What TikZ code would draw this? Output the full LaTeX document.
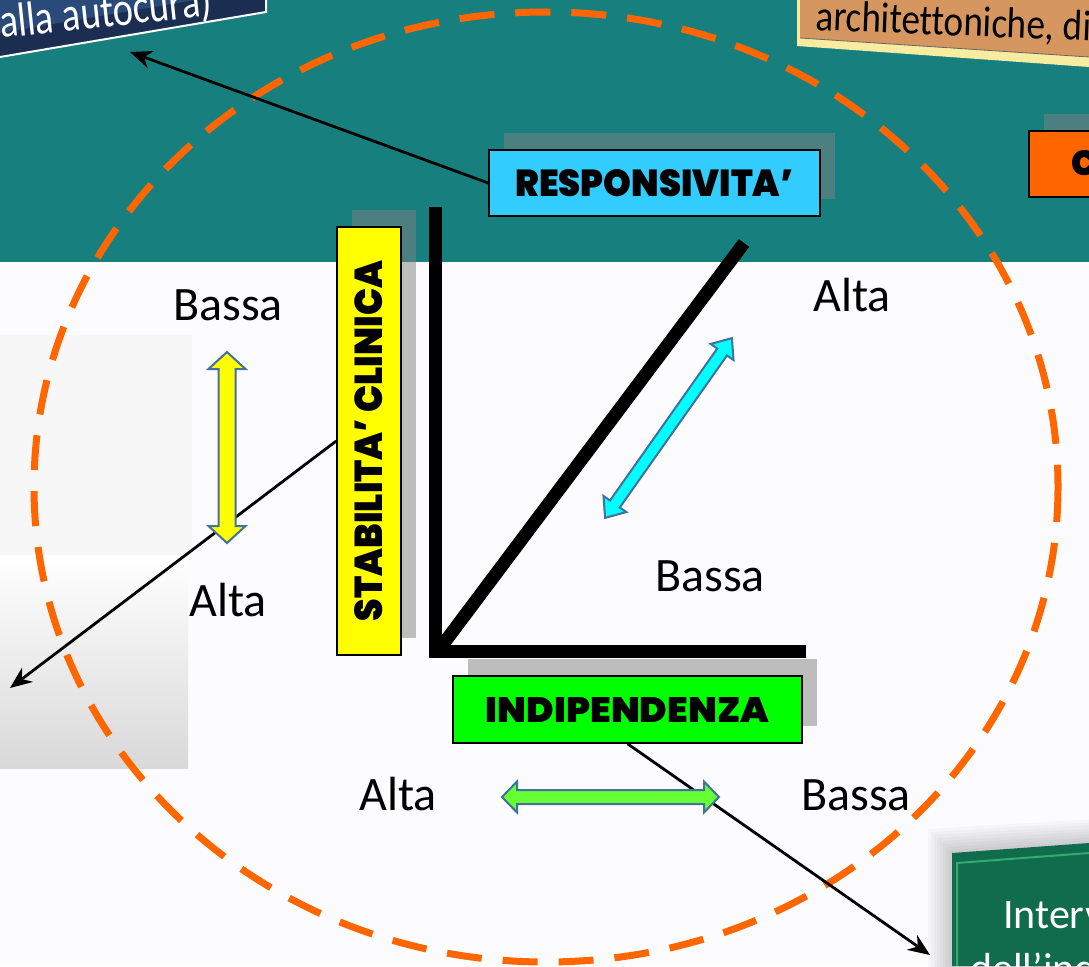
\documentclass[tikz,border=0pt]{standalone}
\usepackage{fontspec}
\setmainfont{Carlito}[RawFeature={-liga;-clig;-calt;-dlig}]
\usetikzlibrary{arrows.meta,shadows}
\IfFontExistsTF{Poppins Black}
  {\newfontfamily\blackfam{Poppins Black}\newcommand\heavy{\blackfam}}
  {\newfontfamily\poppinsfam{Poppins}\newcommand\heavy{\poppinsfam\bfseries}}

\definecolor{teal0}{RGB}{24,127,127}
\definecolor{paper}{RGB}{252,252,254}
\definecolor{ringorange}{RGB}{255,102,0}
\definecolor{navy}{RGB}{27,45,80}
\definecolor{navylight}{RGB}{42,74,122}
\definecolor{tanbox}{RGB}{214,150,96}
\definecolor{paleyellow}{RGB}{248,236,160}
\definecolor{darkgreen}{RGB}{16,108,76}
\definecolor{edgegreen}{RGB}{52,170,110}
\definecolor{respcyan}{RGB}{51,204,255}
\definecolor{stabyellow}{RGB}{255,255,0}
\definecolor{indgreen}{RGB}{0,255,0}
\definecolor{arrowedge}{RGB}{65,113,156}
\definecolor{arrowcyan}{RGB}{0,255,255}
\definecolor{arrowgreen}{RGB}{102,255,51}
\definecolor{boxorange}{RGB}{255,102,0}

% double-headed block arrow: centre x, centre y, angle, half length,
% shaft half width, head half width, head length, fill colour
\newcommand\blockarrow[8]{%
  \begin{scope}[shift={(#1,#2)}, rotate=#3]
    \draw[blockedge, fill=#8]
      (-#4,0) -- (-#4+#7,#6) -- (-#4+#7,#5) -- (#4-#7,#5) -- (#4-#7,#6)
      -- (#4,0) -- (#4-#7,-#6) -- (#4-#7,-#5) -- (-#4+#7,-#5)
      -- (-#4+#7,-#6) -- cycle;
  \end{scope}}

\begin{document}
\begin{tikzpicture}[x=1pt, y=-1pt,
  levellabel/.style={font=\fontsize{48}{56}\selectfont, anchor=base, inner sep=0pt},
  tagbox/.style={draw=black, line width=1.5pt, inner sep=0pt,
    drop shadow={shadow xshift=15pt, shadow yshift=17pt}},
  conn/.style={line width=2.8pt, -{Stealth[length=22pt, width=18pt]}},
  blockedge/.style={draw=arrowedge, line width=2pt, line join=miter},
  axis/.style={line width=13pt, line join=miter},
  ring/.style={draw=ringorange, line width=7pt, dash pattern=on 35pt off 21pt}]
\useasboundingbox (0,0) rectangle (1089,966);
\clip (0,0) rectangle (1089,966);

% background: teal band above, white page below
\fill[teal0] (0,0) rectangle (1089,262);
\fill[paper] (0,262) rectangle (1089,966);
\fill[black!3] (0,335) rectangle (192,555);
\shade[top color=white, middle color=white, bottom color=black!15] (0,555) rectangle (188,768);

% top-left navy panel
\fill[navy] (0,0) -- (266,0) -- (266,12) -- (0,57) -- cycle;
\fill[navylight] (0,0) -- (195,0) -- (0,33) -- cycle;
\draw[white, line width=2pt] (0,57) -- (266,12) -- (266,-1);
\node[anchor=base west, inner sep=0pt, rotate=6, xscale=0.8, text=white,
  font=\fontsize{48}{56}\selectfont] (selfcare) at (1,38) {alla autocura)};

% top-right tan panel
\fill[paleyellow] (797,0) -- (1089,0) -- (1089,67) -- (797,46) -- cycle;
\fill[tanbox] (800,0) -- (1089,0) -- (1089,57) -- (800,38) -- cycle;
\draw[black!60, line width=0.8pt] (800,38) -- (1089,57);
\node[anchor=base west, inner sep=0pt, rotate=-2.3, xscale=0.93, yscale=1.08,
  font=\fontsize{40}{48}\selectfont] (archi) at (815,30) {architettoniche, di};

% bottom-right green panel with a soft halo
\foreach \i in {1,...,8}
  \fill[black, opacity=0.025] (952-3*\i,853-3*\i) -- (1095,843-3*\i) -- (1095,980) -- (952-3*\i,980) -- cycle;
\fill[darkgreen] (952,853) -- (1089,843) -- (1089,966) -- (952,966) -- cycle;
\draw[edgegreen, line width=2pt] (957,966) -- (957,863) -- (1089,853);
\node[anchor=base west, inner sep=0pt, text=white,
  font=\fontsize{42}{50}\selectfont] (interv) at (1003,928) {Interve};
\node[anchor=base west, inner sep=0pt, text=white,
  font=\fontsize{42}{50}\selectfont] (indi) at (970,982) {dell’indi};

% orange tag at the right edge
\node[tagbox, fill=boxorange, minimum width=80pt, minimum height=66pt,
  anchor=north west] (ctx) at (1028,130) {};
\node[anchor=base west, inner sep=0pt] (ctxtext) at (1071,175)
  {\resizebox{!}{25pt}{\heavy C}};

% dashed orange ring
\draw[ring] (546,487) ellipse [x radius=512, y radius=475];

% axes
\draw[axis] (435,207) -- (435,651.5) -- (806,651.5);
\draw[axis] (441,647) -- (744,243);

% tags
\node[tagbox, fill=respcyan, minimum width=331pt, minimum height=66pt] (resp)
  at (654.5,183) {\resizebox{278pt}{27pt}{\heavy RESPONSIVITA’}};
\node[tagbox, fill=stabyellow, minimum width=64pt, minimum height=428pt] (stab)
  at (369,441) {\rotatebox{90}{\resizebox{360pt}{28pt}{\heavy STABILITA’ CLINICA}}};
\node[tagbox, fill=indgreen, minimum width=349pt, minimum height=67pt] (indep)
  at (627.5,709.5) {\resizebox{283pt}{25pt}{\heavy INDIPENDENZA}};

% connectors
\coordinate (selfcareend) at (130,52);
\coordinate (leftend) at (10,688);
\coordinate (rightend) at (930,955);
\draw[conn] (resp.west) -- (selfcareend);
\draw[conn] (stab.west) -- (leftend);
\draw[conn] (indep.south) -- (rightend);

% level arrows
\blockarrow{227}{447.5}{90}{95.5}{8.5}{18.5}{17}{stabyellow}
\blockarrow{668.5}{428}{54.8}{110}{6}{14}{17}{arrowcyan}
\blockarrow{610.5}{797}{0}{108.5}{7}{15.5}{15}{arrowgreen}

% level labels
\node[levellabel] (stablow) at (228,320) {Bassa};
\node[levellabel] (stabhigh) at (228,616) {Alta};
\node[levellabel] (resphigh) at (852,311) {Alta};
\node[levellabel] (resplow) at (710,591) {Bassa};
\node[levellabel] (indhigh) at (398,810) {Alta};
\node[levellabel] (indlow) at (856,810) {Bassa};
\end{tikzpicture}
\end{document}
